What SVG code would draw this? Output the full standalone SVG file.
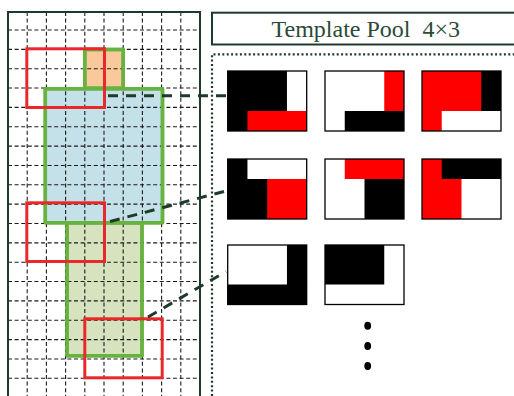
<svg xmlns="http://www.w3.org/2000/svg" width="514" height="396" viewBox="0 0 514 396">
  <style>
    .grid line { stroke: #1a1a1a; stroke-width: 1.1; stroke-dasharray: 4 2.6; }
    .region { stroke: #68b240; stroke-width: 3.5; stroke-linejoin: round; }
    .window { fill: none; stroke: #e8282b; stroke-width: 3; }
    .link { stroke: #1e3a2a; stroke-width: 3; stroke-dasharray: 10 8; fill: none; }
    .frame { fill: none; stroke: #1e3a2a; stroke-width: 2; }
    .dotted { stroke: #1e3a2a; stroke-width: 2.2; stroke-dasharray: 2 2.4; fill: none; }
    .tile-edge { fill: none; stroke: #000; stroke-width: 1.3; }
    .k { fill: #000; }
    .r { fill: #ff0000; }
    .w { fill: #fff; }
    .title { font-family: "Liberation Serif", "Times New Roman", serif; font-size: 24px; fill: #2b4a38; }
  </style>

  <rect width="514" height="396" fill="#fff"/>

  <!-- image grid with body regions -->
  <g id="image-grid">
    <rect id="region-head" class="region" x="84.8" y="49.4" width="38.4" height="38.8" fill="#f9c89b"/>
    <rect id="region-torso" class="region" x="45.3" y="88.8" width="117.2" height="134" fill="#c4e1ea"/>
    <rect id="region-legs" class="region" x="67" y="222.8" width="75" height="133" fill="#d6e3be"/>
    <g class="grid">
      <line x1="27.2" y1="12" x2="27.2" y2="396"/>
      <line x1="46.4" y1="12" x2="46.4" y2="396"/>
      <line x1="65.6" y1="12" x2="65.6" y2="396"/>
      <line x1="84.8" y1="12" x2="84.8" y2="396"/>
      <line x1="104" y1="12" x2="104" y2="396"/>
      <line x1="123.2" y1="12" x2="123.2" y2="396"/>
      <line x1="142.4" y1="12" x2="142.4" y2="396"/>
      <line x1="161.6" y1="12" x2="161.6" y2="396"/>
      <line x1="180.8" y1="12" x2="180.8" y2="396"/>
      <line x1="8" y1="30" x2="200" y2="30"/>
      <line x1="8" y1="49.35" x2="200" y2="49.35"/>
      <line x1="8" y1="68.7" x2="200" y2="68.7"/>
      <line x1="8" y1="88.05" x2="200" y2="88.05"/>
      <line x1="8" y1="107.4" x2="200" y2="107.4"/>
      <line x1="8" y1="126.75" x2="200" y2="126.75"/>
      <line x1="8" y1="146.1" x2="200" y2="146.1"/>
      <line x1="8" y1="165.45" x2="200" y2="165.45"/>
      <line x1="8" y1="184.8" x2="200" y2="184.8"/>
      <line x1="8" y1="204.15" x2="200" y2="204.15"/>
      <line x1="8" y1="223.5" x2="200" y2="223.5"/>
      <line x1="8" y1="242.85" x2="200" y2="242.85"/>
      <line x1="8" y1="262.2" x2="200" y2="262.2"/>
      <line x1="8" y1="281.55" x2="200" y2="281.55"/>
      <line x1="8" y1="300.9" x2="200" y2="300.9"/>
      <line x1="8" y1="320.25" x2="200" y2="320.25"/>
      <line x1="8" y1="339.6" x2="200" y2="339.6"/>
      <line x1="8" y1="358.95" x2="200" y2="358.95"/>
      <line x1="8" y1="378.3" x2="200" y2="378.3"/>
    </g>
    <rect class="region" x="84.8" y="49.4" width="38.4" height="38.8" fill="none"/>
    <rect class="region" x="45.3" y="88.8" width="117.2" height="134" fill="none"/>
    <rect class="region" x="67" y="222.8" width="75" height="133" fill="none"/>
    <path class="frame" d="M8 400 V12 H200 V400"/>
  </g>

  <!-- sliding 4x3 windows -->
  <g id="windows">
    <rect id="window-1" class="window" x="26.8" y="48.8" width="77.7" height="58.7"/>
    <rect id="window-2" class="window" x="26.8" y="202.8" width="77.7" height="58.7"/>
    <rect id="window-3" class="window" x="84.8" y="318.8" width="77.4" height="59"/>
  </g>

  <!-- connectors from windows to templates -->
  <g id="connectors">
    <line class="link" x1="108" y1="95.7" x2="227" y2="95.7"/>
    <line class="link" x1="110" y1="221.5" x2="224" y2="191.5"/>
    <line class="link" x1="148" y1="317" x2="226" y2="271.5"/>
  </g>

  <!-- template pool header -->
  <g id="pool-title">
    <rect class="frame" x="212" y="12.7" width="320" height="31.8"/>
    <text class="title" x="271.5" y="36.7" xml:space="preserve">Template Pool  4×3</text>
  </g>

  <!-- template pool area border -->
  <g id="pool-border">
    <path class="dotted" d="M212 396 V54.3 H514"/>
  </g>

  <!-- templates: 4 columns x 3 rows of cells, each cell 19.75 x 20 -->
  <g id="template-1" transform="translate(227.7 71)">
    <rect class="k" width="79" height="60"/>
    <rect class="w" x="59.25" width="19.75" height="40"/>
    <rect class="r" x="19.75" y="40" width="59.25" height="20"/>
    <rect class="tile-edge" width="79" height="60"/>
  </g>
  <g id="template-2" transform="translate(325 71)">
    <rect class="w" width="79" height="60"/>
    <rect class="r" x="59.25" width="19.75" height="40"/>
    <rect class="k" x="19.75" y="40" width="59.25" height="20"/>
    <rect class="tile-edge" width="79" height="60"/>
  </g>
  <g id="template-3" transform="translate(422 71)">
    <rect class="r" width="79" height="60"/>
    <rect class="k" x="59.25" width="19.75" height="40"/>
    <rect class="w" x="19.75" y="40" width="59.25" height="20"/>
    <rect class="tile-edge" width="79" height="60"/>
  </g>
  <g id="template-4" transform="translate(227.7 159)">
    <rect class="k" width="79" height="60"/>
    <rect class="w" x="19.75" width="59.25" height="20"/>
    <rect class="r" x="39.5" y="20" width="39.5" height="40"/>
    <rect class="tile-edge" width="79" height="60"/>
  </g>
  <g id="template-5" transform="translate(325 159)">
    <rect class="w" width="79" height="60"/>
    <rect class="r" x="19.75" width="59.25" height="20"/>
    <rect class="k" x="39.5" y="20" width="39.5" height="40"/>
    <rect class="tile-edge" width="79" height="60"/>
  </g>
  <g id="template-6" transform="translate(422 159)">
    <rect class="r" width="79" height="60"/>
    <rect class="k" x="19.75" width="59.25" height="20"/>
    <rect class="w" x="39.5" y="20" width="39.5" height="40"/>
    <rect class="tile-edge" width="79" height="60"/>
  </g>
  <g id="template-7" transform="translate(227.7 245)">
    <rect class="w" width="79" height="60"/>
    <rect class="k" x="59.25" width="19.75" height="40"/>
    <rect class="k" y="39.5" width="79" height="20"/>
    <rect class="tile-edge" width="79" height="59.5"/>
  </g>
  <g id="template-8" transform="translate(325 245)">
    <rect class="w" width="79" height="60"/>
    <rect class="k" width="59.25" height="39.5"/>
    <rect class="tile-edge" width="79" height="59.5"/>
  </g>

  <!-- continuation dots -->
  <g id="ellipsis" fill="#000">
    <ellipse cx="367.7" cy="325.8" rx="3.4" ry="4"/>
    <ellipse cx="367.7" cy="346" rx="3.4" ry="4"/>
    <ellipse cx="367.7" cy="366" rx="3.4" ry="4"/>
  </g>
</svg>
